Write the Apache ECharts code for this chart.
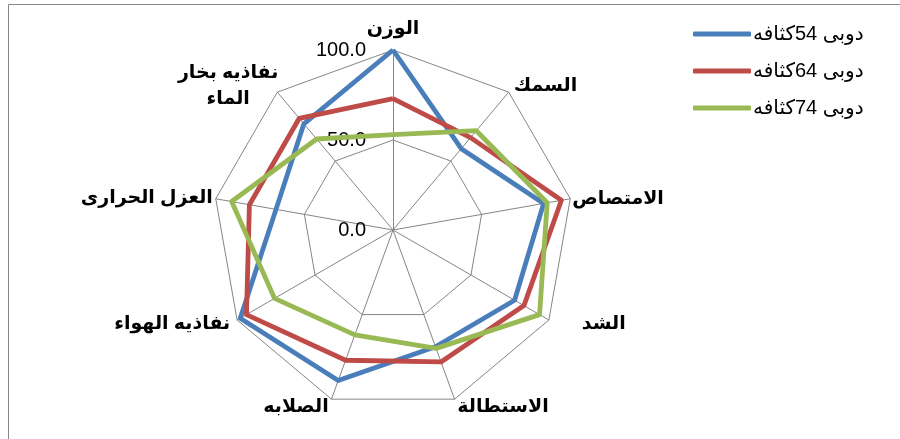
<!DOCTYPE html>
<html><head><meta charset="utf-8">
<script src="https://cdn.jsdelivr.net/npm/echarts@6/dist/echarts.min.js"></script>
<style>html,body{margin:0;padding:0;background:#fff}#c{width:900px;height:439px}</style>
</head><body><div id="c"></div>
<script>
// Categories listed clockwise from the top axis
var categories = ['الوزن','السمك','الامتصاص','الشد','الاستطالة','الصلابه','نفاذيه الهواء','العزل الحرارى','نفاذيه بخار\nالماء'];
var seriesNames = ['دوبى 54كثافه','دوبى 64كثافه','دوبى 74كثافه'];
var density54 = [100, 59, 85, 78, 69, 89, 98, 66, 77];
var density64 = [73, 67, 95, 84, 78, 77, 94, 81, 81];
var density74 = [53, 72, 87, 94, 70, 62, 76, 91, 66];
var axisMax = 100;
var axisTicks = [0, 50, 100];

var colors = ['#4a7ebb', '#be4b48', '#98b954'];
var fontFam = "'Liberation Sans', Arial, 'DejaVu Sans', sans-serif";

// per-axis name placement tweaks (clockwise order, same as categories)
var nameTweaks = [
  {nameTextStyle: {padding: [0, 0, 4, 0]}},
  {},
  {nameGap: 2},
  {nameTextStyle: {padding: [0, 0, 0, 26]}},
  {},
  {},
  {},
  {nameGap: 3, nameTextStyle: {padding: [8, 0, 0, 0]}},
  {nameTextStyle: {align: 'center', lineHeight: 26, padding: [0, 88, 0, 0]}}
];

// ECharts lays indicators counter-clockwise; reorder to get clockwise
function cw(arr){ return [arr[0]].concat(arr.slice(1).reverse()); }

var indicators = cw(categories.map(function(n, i){
  var o = {name: n, max: axisMax, min: 0};
  var t = nameTweaks[i];
  for (var k in t) o[k] = t[k];
  if (i === 0) o.axisLabel = {show: true};
  return o;
}));

var chart = echarts.init(document.getElementById('c'), null, {renderer: 'canvas'});
chart.setOption({
  animation: false,
  backgroundColor: '#fff',
  graphic: [{
    type: 'rect', shape: {x: 8.5, y: 4.5, width: 1000, height: 1000},
    style: {fill: 'none', stroke: '#868686', lineWidth: 1}, z: -10
  }],
  legend: {
    orient: 'vertical', left: 688, top: 18,
    itemWidth: 58, itemHeight: 5, itemGap: 15, icon: 'roundRect',
    textStyle: {fontFamily: fontFam, fontSize: 20, color: '#000', lineHeight: 22, padding: [0, 0, 0, -3]},
    data: seriesNames
  },
  radar: {
    center: [393, 230], radius: 180,
    startAngle: 90, splitNumber: axisTicks.length - 1,
    shape: 'polygon',
    axisName: {color: '#000', fontWeight: 'bold', fontFamily: fontFam, fontSize: 19},
    nameGap: 8,
    splitLine: {lineStyle: {color: '#868686', width: 1}},
    splitArea: {show: false},
    axisLine: {lineStyle: {color: '#868686', width: 1}},
    axisTick: {show: false},
    axisLabel: {show: false, color: '#000', fontFamily: fontFam, fontSize: 20, margin: 27,
      formatter: function(v){ return Number(v).toFixed(1); }},
    indicator: indicators
  },
  series: [{
    type: 'radar', symbol: 'none',
    data: [
      {name: seriesNames[0], value: cw(density54), lineStyle: {color: colors[0], width: 4.8}, itemStyle: {color: colors[0]}},
      {name: seriesNames[1], value: cw(density64), lineStyle: {color: colors[1], width: 4.8}, itemStyle: {color: colors[1]}},
      {name: seriesNames[2], value: cw(density74), lineStyle: {color: colors[2], width: 4.8}, itemStyle: {color: colors[2]}}
    ]
  }]
});
</script></body></html>
